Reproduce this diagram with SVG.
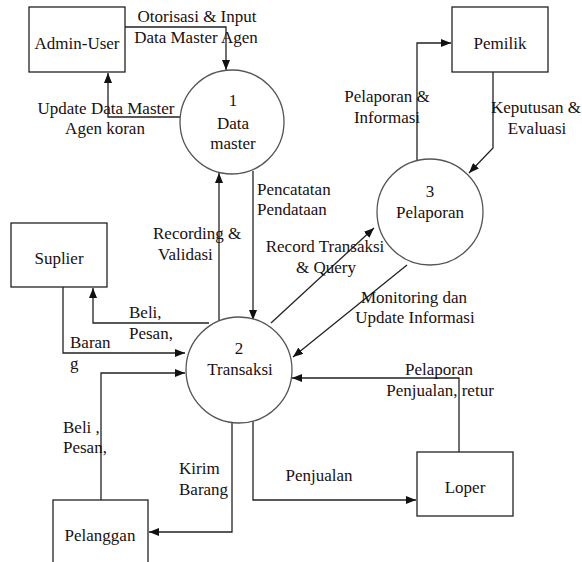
<svg xmlns="http://www.w3.org/2000/svg" width="582" height="562" viewBox="0 0 582 562" font-family="'Liberation Serif', 'DejaVu Serif', serif" font-size="17">
<defs>
<style>
text{font-family:'Liberation Serif','DejaVu Serif',serif;font-size:17px;fill:#1a1010}
.c{text-anchor:middle}
.box{fill:#fff;stroke:#222;stroke-width:1.3}
.proc{fill:#fff;stroke:#555;stroke-width:1.3}
.ln{fill:none;stroke:#222;stroke-width:1.3;marker-end:url(#ah)}
</style>
<marker id="ah" viewBox="0 0 10 8" refX="10" refY="4" markerWidth="10" markerHeight="8" orient="auto" markerUnits="userSpaceOnUse"><path d="M0,0 L10,4 L0,8 z" fill="#111"/></marker>
</defs>
<rect width="582" height="562" fill="#fff"/>
<g id="connectors">
<path class="ln" d="M125,27 H226 V70"/>
<path class="ln" d="M180,117 H108 V73"/>
<path class="ln" d="M417,161 V43 H451"/>
<path class="ln" d="M493,72 V148 L469,173"/>
<path class="ln" d="M219,321 V173"/>
<path class="ln" d="M253,171 V320"/>
<path class="ln" d="M271,323 L374,228"/>
<path class="ln" d="M407,265 L293,357"/>
<path class="ln" d="M459,452 V378 H292"/>
<path class="ln" d="M253,421 V500 H416"/>
<path class="ln" d="M232,422 V532 H149"/>
<path class="ln" d="M101,500 V373 H185"/>
<path class="ln" d="M63,287 V353 H185"/>
<path class="ln" d="M209,323 H93 V288"/>
</g>
<g id="admin-user"><rect class="box" x="29" y="7" width="96" height="65"/><text class="c" x="77" y="49">Admin-User</text></g>
<g id="pemilik"><rect class="box" x="452" y="7" width="96" height="65"/><text class="c" x="500" y="49">Pemilik</text></g>
<g id="suplier"><rect class="box" x="11" y="223" width="96" height="64"/><text class="c" x="59" y="264">Suplier</text></g>
<g id="pelanggan"><rect class="box" x="53" y="500" width="95" height="80"/><text class="c" x="100" y="541">Pelanggan</text></g>
<g id="loper"><rect class="box" x="417" y="452" width="96" height="64"/><text class="c" x="465" y="493">Loper</text></g>
<g id="p1"><circle class="proc" cx="232" cy="122" r="52"/><text class="c" x="233" y="106">1</text><text class="c" x="233" y="129">Data</text><text class="c" x="233" y="149">master</text></g>
<g id="p2"><circle class="proc" cx="239" cy="370" r="53"/><text class="c" x="239" y="354">2</text><text class="c" x="240" y="375">Transaksi</text></g>
<g id="p3"><circle class="proc" cx="430" cy="212" r="53"/><text class="c" x="430" y="197">3</text><text class="c" x="430" y="218">Pelaporan</text></g>
<g id="labels">
<text class="c" x="197" y="22">Otorisasi &amp; Input</text>
<text class="c" x="196" y="43">Data Master Agen</text>
<text class="c" x="106" y="114">Update Data Master</text>
<text class="c" x="105" y="134">Agen koran</text>
<text class="c" x="387" y="102">Pelaporan &amp;</text>
<text class="c" x="387" y="123">Informasi</text>
<text class="c" x="536" y="113">Keputusan &amp;</text>
<text class="c" x="537" y="134">Evaluasi</text>
<text x="153" y="239">Recording &amp;</text>
<text x="158" y="260">Validasi</text>
<text x="257" y="195">Pencatatan</text>
<text x="257" y="215">Pendataan</text>
<text class="c" x="325" y="252">Record Transaksi</text>
<text class="c" x="326" y="273">&amp; Query</text>
<text class="c" x="414" y="303">Monitoring dan</text>
<text class="c" x="415" y="323">Update Informasi</text>
<text class="c" x="439" y="375">Pelaporan</text>
<text class="c" x="440" y="396">Penjualan, retur</text>
<text class="c" x="319" y="481">Penjualan</text>
<text x="179" y="474">Kirim</text>
<text x="179" y="495">Barang</text>
<text x="63" y="433">Beli ,</text>
<text x="63" y="453">Pesan,</text>
<text x="129" y="318">Beli,</text>
<text x="129" y="339">Pesan,</text>
<text x="70" y="348">Baran</text>
<text x="70" y="369">g</text>
</g>
</svg>
